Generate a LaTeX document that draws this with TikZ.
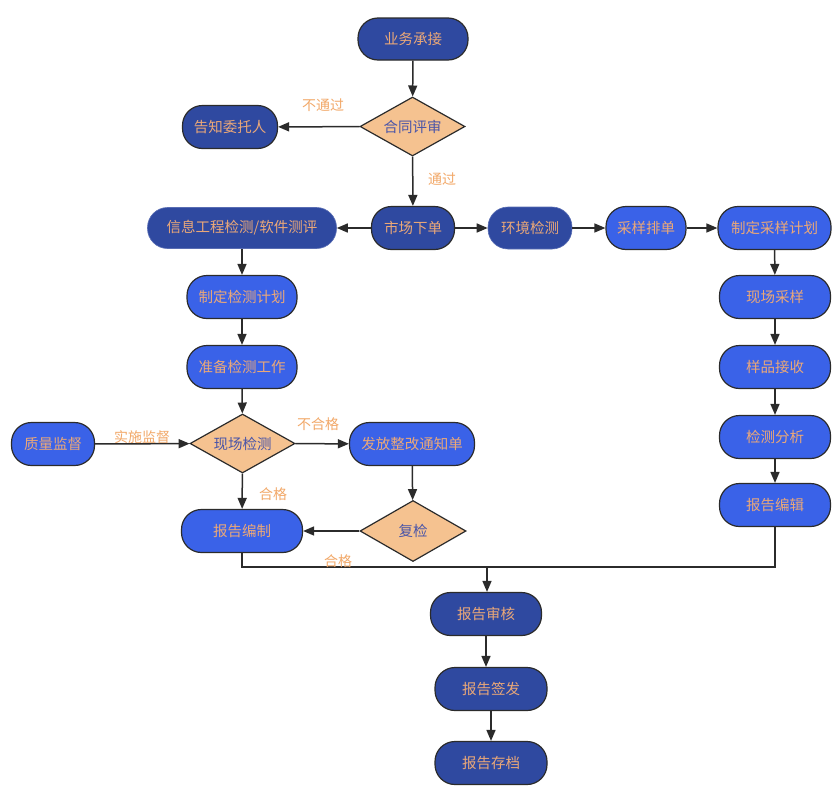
\documentclass[tikz,border=0pt]{standalone}
\usepackage{fontspec}
\setmainfont{Noto Sans CJK SC}
\usetikzlibrary{shapes.geometric,arrows.meta}
\definecolor{darkb}{HTML}{2F49A0}
\definecolor{brightb}{HTML}{3A62E8}
\definecolor{diafill}{HTML}{F5C290}
\definecolor{txtor}{HTML}{EBA878}
\definecolor{txtdia}{HTML}{4A55A8}
\definecolor{lbl}{HTML}{F2A868}
\definecolor{edge}{HTML}{2B2B2B}
\begin{document}
\begin{tikzpicture}[x=1pt,y=-1pt,
  every node/.style={font=\fontsize{14.5}{17}\selectfont},
  box/.style={rectangle,rounded corners=20pt,minimum height=43pt,inner sep=0pt,text=txtor,line width=1.2pt},
  dbox/.style={box,fill=darkb,draw=edge},
  dnb/.style={box,fill=darkb,draw=darkb!80!white,line width=0.6pt},
  bbox/.style={box,fill=brightb,draw=edge},
  dia/.style={diamond,aspect=1.78,fill=diafill,draw=edge,line width=1.2pt,text=txtdia,inner sep=0pt},
  arr/.style={draw=edge,line width=1.5pt,-{Triangle[length=11pt,width=9pt]}},
  ln/.style={draw=edge,line width=1.5pt},
  lab/.style={text=lbl,font=\fontsize{14}{16}\selectfont}]
\useasboundingbox (0,0) rectangle (840,806);
\fill[white] (0,0) rectangle (840,806);

\node[dbox,minimum width=110pt,minimum height=42pt] (n1) at (413,39) {业务承接};
\node[dia,minimum width=105pt,minimum height=59pt] (d1) at (412.5,126.5) {合同评审};
\node[dbox,minimum width=95pt] (n2) at (230,127) {告知委托人};
\node[dbox,minimum width=83pt] (n3) at (413,228) {市场下单};
\node[dnb,minimum width=189pt,minimum height=41pt] (n4) at (242,228) {信息工程检测/软件测评};
\node[dnb,minimum width=84pt,minimum height=42pt] (n5) at (530,228) {环境检测};
\node[bbox,minimum width=80pt] (n6) at (646,228) {采样排单};
\node[bbox,minimum width=113pt] (n7) at (774.5,228) {制定采样计划};
\node[bbox,minimum width=111pt] (n8) at (775,297) {现场采样};
\node[bbox,minimum width=111pt] (n9) at (775,367) {样品接收};
\node[bbox,minimum width=111pt] (n10) at (775,437) {检测分析};
\node[bbox,minimum width=111pt] (n11) at (775,505) {报告编辑};
\node[bbox,minimum width=110pt] (n12) at (242,297) {制定检测计划};
\node[bbox,minimum width=110pt] (n13) at (242,367) {准备检测工作};
\node[dia,minimum width=105pt,minimum height=59pt] (d2) at (242.5,443.5) {现场检测};
\node[bbox,minimum width=83pt] (n14) at (53,444) {质量监督};
\node[bbox,minimum width=125pt] (n15) at (412,444) {发放整改通知单};
\node[bbox,minimum width=121pt] (n16) at (242,531) {报告编制};
\node[dia,minimum width=106pt,minimum height=61pt] (d3) at (413,531) {复检};
\node[dbox,minimum width=111pt] (n17) at (486,614) {报告审核};
\node[dbox,minimum width=112pt] (n18) at (491,689) {报告签发};
\node[dbox,minimum width=112pt] (n19) at (491,763) {报告存档};

\coordinate (j) at (487,567);

\draw[arr] (n1) -- (d1);
\draw[arr] (d1) -- (n2);
\draw[arr] (d1) -- (n3);
\draw[arr] (n3) -- (n4);
\draw[arr] (n3) -- (n5);
\draw[arr] (n5) -- (n6);
\draw[arr] (n6) -- (n7);
\draw[arr] (n7) -- (n8);
\draw[arr] (n8) -- (n9);
\draw[arr] (n9) -- (n10);
\draw[arr] (n10) -- (n11);
\draw[arr] (n4) -- (n12);
\draw[arr] (n12) -- (n13);
\draw[arr] (n13) -- (d2);
\draw[arr] (n14) -- (d2);
\draw[arr] (d2) -- (n15);
\draw[arr] (d2) -- (n16);
\draw[arr] (n15) -- (d3);
\draw[arr] (d3) -- (n16);
\draw[ln] (n16.south) |- (j) -| (n11.south);
\draw[arr] (j) -- (j |- n17.north);
\draw[arr] (n17.south) -- (n17.south |- n18.north);
\draw[arr] (n18.south) -- (n18.south |- n19.north);

\node[lab] (l1) at (323,105) {不通过};
\node[lab] (l2) at (442,179) {通过};
\node[lab] (l3) at (142,437) {实施监督};
\node[lab] (l4) at (318,424) {不合格};
\node[lab] (l5) at (273,494) {合格};
\node[lab] (l6) at (338,561) {合格};
\end{tikzpicture}
\end{document}
